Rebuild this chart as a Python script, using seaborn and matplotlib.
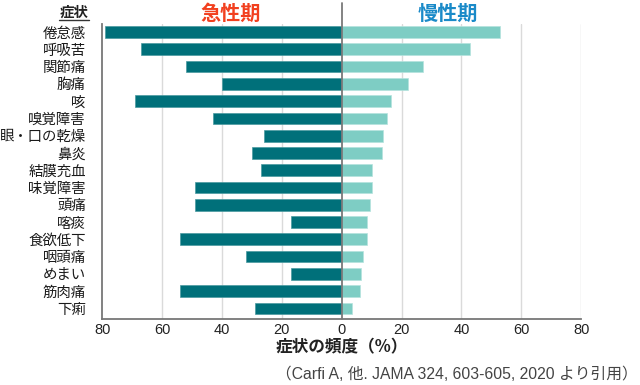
import pandas as pd
import matplotlib
matplotlib.use("Agg")
import matplotlib.pyplot as plt
from matplotlib.lines import Line2D
import seaborn as sns

symptoms = ["倦怠感", "呼吸苦", "関節痛", "胸痛", "咳", "嗅覚障害", "眼・口の乾燥", "鼻炎",
            "結膜充血", "味覚障害", "頭痛", "喀痰", "食欲低下", "咽頭痛", "めまい", "筋肉痛", "下痢"]
acute = [79, 67, 52, 40, 69, 43, 26, 30, 27, 49, 49, 17, 54, 32, 17, 54, 29]
chronic = [53, 43, 27, 22, 16.6, 15.2, 13.9, 13.5, 10, 10.2, 9.4, 8.6, 8.5, 7.2, 6.3, 6.2, 3.3]
ticks = [-80, -60, -40, -20, 0, 20, 40, 60, 80]
tick_labels = ["80", "60", "40", "20", "0", "20", "40", "60", "80"]

df = pd.DataFrame({"症状": symptoms, "急性期": [-v for v in acute], "慢性期": chronic})

sns.set_style("white")
plt.rcParams["font.family"] = ["Noto Sans CJK JP", "DejaVu Sans"]
latin = ["Liberation Sans", "Noto Sans CJK JP", "DejaVu Sans"]

fig = plt.figure(figsize=(6.4, 3.85), dpi=100)
ax = fig.add_axes([0.16, 0.171, 0.748, 0.767])

# grid first so bars sit on top
for t in ticks:
    if t not in (0, -80):
        ax.axvline(t, color="#dadada", lw=1.0, zorder=0)

sns.barplot(data=df, x="急性期", y="症状", order=symptoms, color="#00707a",
            saturation=1, width=0.68, edgecolor="#4a9aa0", linewidth=0.5, ax=ax, zorder=2)
sns.barplot(data=df, x="慢性期", y="症状", order=symptoms, color="#7ecdc4",
            saturation=1, width=0.68, edgecolor="#b5e3dd", linewidth=0.5, ax=ax, zorder=2)

ax.axvline(0, ymin=0, ymax=1.07, color="#7a7a7a", lw=1.3, clip_on=False, zorder=3)

ax.set_xlim(-80, 80)
ax.set_ylim(16.62, -0.47)
ax.set_xticks(ticks)
ax.set_xticklabels(tick_labels, fontsize=10.5, color="#222222", family=latin)
ax.tick_params(axis="y", length=0, pad=12, labelsize=10.4, labelcolor="#1a1a1a")
ax.tick_params(axis="x", length=0, pad=3)
ax.set_ylabel("")
ax.set_xlabel("症状の頻度（%）", fontsize=12, fontweight="bold", color="#222222", labelpad=1)

for side in ["top", "right"]:
    ax.spines[side].set_visible(False)
for side in ["left", "bottom"]:
    ax.spines[side].set_color("#777777")
    ax.spines[side].set_linewidth(1.3)

fig.text(0.36, 0.965, "急性期", color="#f2401f", fontsize=14.5, fontweight="bold", ha="center", va="center")
fig.text(0.70, 0.965, "慢性期", color="#1a8ac8", fontsize=14.5, fontweight="bold", ha="center", va="center")
fig.text(0.138, 0.967, "症状", color="#222222", fontsize=10.4, fontweight="bold", ha="right", va="center")
fig.add_artist(Line2D([0.092, 0.139], [0.949, 0.949], color="#333333", lw=1.0, transform=fig.transFigure))

fig.text(0.997, 0.027, "（Carfi A, 他. JAMA 324, 603-605, 2020 より引用）", color="#444444",
         fontsize=11.3, ha="right", va="center", family=latin)

fig.savefig("out.png", dpi=100)
